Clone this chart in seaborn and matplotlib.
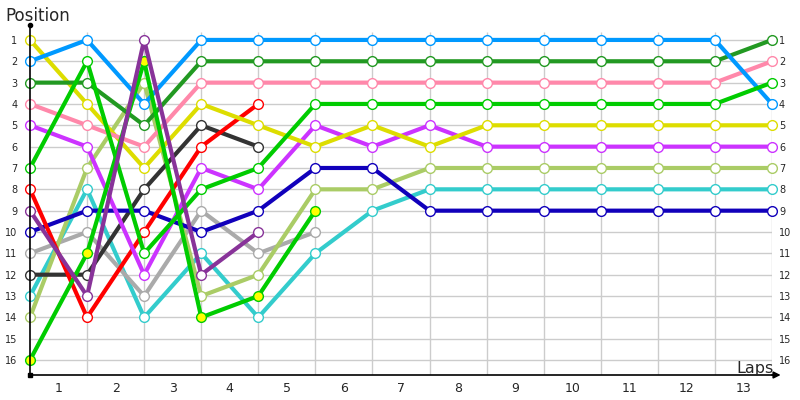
"""Lap chart: position of each car after every lap."""
import matplotlib
matplotlib.use("Agg")
import matplotlib.pyplot as plt
import numpy as np
import pandas as pd
import seaborn as sns

sns.set_theme(style="white")
plt.rcParams["font.family"] = ["DejaVu Sans"]

# ─────────────────────────────────────────────────────────────────────────────
# Data: position after each lap (index 0 = start grid)
# ─────────────────────────────────────────────────────────────────────────────
laps = list(range(14))
lap_labels = [str(i) for i in range(1, 14)]
positions = list(range(1, 17))

light_blue = [2, 1, 4, 1, 1, 1, 1, 1, 1, 1, 1, 1, 1, 4]
dark_green = [3, 3, 5, 2, 2, 2, 2, 2, 2, 2, 2, 2, 2, 1]
pink = [4, 5, 6, 3, 3, 3, 3, 3, 3, 3, 3, 3, 3, 2]
yellow = [1, 4, 7, 4, 5, 6, 5, 6, 5, 5, 5, 5, 5, 5]
magenta = [5, 6, 12, 7, 8, 5, 6, 5, 6, 6, 6, 6, 6, 6]
bright_green = [7, 2, 11, 8, 7, 4, 4, 4, 4, 4, 4, 4, 4, 3]
red = [8, 14, 10, 6, 4]
purple = [9, 13, 1, 12, 10]
dark_blue = [10, 9, 9, 10, 9, 7, 7, 9, 9, 9, 9, 9, 9, 9]
gray = [11, 10, 13, 9, 11, 10]
dark_gray = [12, 12, 8, 5, 6]
cyan = [13, 8, 14, 11, 14, 11, 9, 8, 8, 8, 8, 8, 8, 8]
olive = [14, 7, 3, 13, 12, 8, 8, 7, 7, 7, 7, 7, 7, 7]
green_yellow = [16, 11, 2, 14, 13, 9]

# (values, line colour, marker fill)
series = [
    (cyan, "#33CCCC", "white"),
    (gray, "#AAAAAA", "white"),
    (olive, "#AACC66", "white"),
    (dark_gray, "#333333", "white"),
    (dark_blue, "#1100BB", "white"),
    (red, "#FF0000", "white"),
    (magenta, "#CC33FF", "white"),
    (yellow, "#DDDD00", "white"),
    (pink, "#FF88AA", "white"),
    (dark_green, "#229922", "white"),
    (light_blue, "#0099FF", "white"),
    (bright_green, "#00CC00", "white"),
    (green_yellow, "#00CC00", "#FFFF00"),
    (purple, "#883399", "white"),
]

fig = plt.figure(figsize=(8, 4), dpi=100)
ax = fig.add_axes([30 / 800, 25 / 400, 742 / 800, 350 / 400])
ax.set_xlim(0, 13)
ax.set_ylim(16.7, 0.3)

# grid
ax.hlines(positions, 0, 13, color="#CCCCCC", lw=1, zorder=0)
ax.vlines(laps[1:], 0.65, 16.7, color="#CCCCCC", lw=1, zorder=0)

for vals, col, face in series:
    df = pd.DataFrame({"lap": laps[:len(vals)], "pos": vals})
    sns.lineplot(data=df, x="lap", y="pos", color=col, lw=3, marker="o",
                 markersize=7, markerfacecolor=face, markeredgecolor=col,
                 markeredgewidth=1.0, ax=ax, clip_on=False)

# axes
for s in ["top", "right"]:
    ax.spines[s].set_visible(False)
ax.spines["left"].set_color("black")
ax.spines["bottom"].set_color("black")
ax.spines["left"].set_linewidth(1.2)
ax.spines["bottom"].set_linewidth(1.2)
ax.plot([0], [0.3], marker="o", ms=3, color="black", clip_on=False)
ax.plot([0], [16.7], marker="s", ms=3, color="black", clip_on=False)
ax.annotate("", xy=(13.2, 16.7), xytext=(12.95, 16.7),
            arrowprops=dict(arrowstyle="-|>", color="black", lw=1.2,
                            mutation_scale=10), annotation_clip=False)

ax.set_yticks(positions)
ax.set_yticklabels([str(p) for p in positions], fontsize=7)
ax.set_xticks(np.arange(0.5, 13, 1))
ax.set_xticklabels(lap_labels, fontsize=9)
ax.tick_params(axis="y", length=0, pad=9)
ax.tick_params(axis="x", length=0, pad=5)
ax.set_xlabel("")
ax.set_ylabel("")

# right-hand position labels
ax_r = ax.twinx()
ax_r.set_ylim(ax.get_ylim())
ax_r.set_yticks(positions)
ax_r.set_yticklabels([str(p) for p in positions], fontsize=7)
ax_r.tick_params(axis="y", length=0, pad=5)
for s in ax_r.spines.values():
    s.set_visible(False)

fig.text(5 / 800, 1 - 16 / 400, "Position", fontsize=12, va="center", ha="left")
fig.text(774 / 800, 1 - 369 / 400, "Laps", fontsize=11.5, va="center", ha="right")

fig.savefig("out.png", dpi=100)
